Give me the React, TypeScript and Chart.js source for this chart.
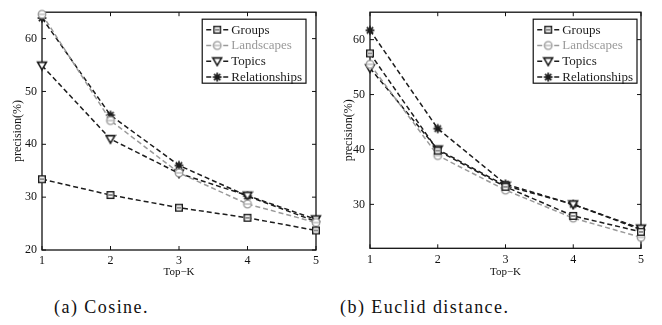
import React, { useEffect, useRef } from 'react';
import { Chart, registerables } from 'chart.js';

Chart.register(...registerables);

// ---------- data ----------
const topK = ['1', '2', '3', '4', '5'];
const seriesNames = ['Groups', 'Landscapes', 'Topics', 'Relationships'];

const cosineGroups = [33.4, 30.4, 28.0, 26.1, 23.7];
const cosineLandscapes = [64.6, 44.5, 34.6, 28.7, 25.2];
const cosineTopics = [54.9, 41.0, 34.5, 30.3, 25.8];
const cosineRelationships = [63.9, 45.5, 36.0, 30.2, 25.4];

const euclidGroups = [57.5, 39.8, 33.2, 27.9, 25.0];
const euclidLandscapes = [55.5, 38.9, 32.6, 27.5, 24.0];
const euclidTopics = [54.8, 40.0, 33.4, 30.0, 25.6];
const euclidRelationships = [61.7, 43.8, 33.7, 30.0, 25.4];

const cosineYTicks = [20, 30, 40, 50, 60];
const euclidYTicks = [30, 40, 50, 60];

const xTitle = 'Top\u2212K';
const yTitle = 'precision(%)';
const captionA = '(a) Cosine.';
const captionB = '(b) Euclid distance.';

// ---------- styling ----------
const DARK = '#1c1c1c';
const GRAY = '#9a9a9a';
const seriesColors = [DARK, GRAY, DARK, DARK];
const seriesMarkers = ['square', 'circle', 'tri', 'star'];
const SERIF = '"Liberation Serif", "Times New Roman", serif';

function makeMarker(kind: string, color: string): HTMLCanvasElement {
  const s = 12;
  const c = document.createElement('canvas');
  c.width = s;
  c.height = s;
  const ctx = c.getContext('2d')!;
  const m = s / 2;
  ctx.strokeStyle = color;
  ctx.fillStyle = '#fff';
  if (kind === 'square') {
    ctx.lineWidth = 1.4;
    ctx.fillRect(m - 3.3, m - 3.3, 6.6, 6.6);
    ctx.strokeRect(m - 3.3, m - 3.3, 6.6, 6.6);
    ctx.lineWidth = 1;
    ctx.beginPath();
    ctx.moveTo(m - 2, m);
    ctx.lineTo(m + 2, m);
    ctx.stroke();
  } else if (kind === 'circle') {
    ctx.lineWidth = 1.3;
    ctx.beginPath();
    ctx.arc(m, m, 3.8, 0, Math.PI * 2);
    ctx.fill();
    ctx.stroke();
    ctx.lineWidth = 1;
    ctx.beginPath();
    ctx.moveTo(m - 3, m);
    ctx.lineTo(m + 3, m);
    ctx.stroke();
  } else if (kind === 'tri') {
    ctx.lineWidth = 1.6;
    ctx.beginPath();
    ctx.moveTo(m - 4.4, m - 3.4);
    ctx.lineTo(m + 4.4, m - 3.4);
    ctx.lineTo(m, m + 4.2);
    ctx.closePath();
    ctx.fill();
    ctx.stroke();
  } else {
    ctx.lineWidth = 1.7;
    ctx.fillStyle = color;
    for (let i = 0; i < 4; i++) {
      const a = (i * Math.PI) / 4;
      ctx.beginPath();
      ctx.moveTo(m - 4.4 * Math.cos(a), m - 4.4 * Math.sin(a));
      ctx.lineTo(m + 4.4 * Math.cos(a), m + 4.4 * Math.sin(a));
      ctx.stroke();
    }
    ctx.beginPath();
    ctx.arc(m, m, 2.3, 0, Math.PI * 2);
    ctx.fill();
  }
  return c;
}

type PanelProps = {
  left: number;
  values: number[][];
  yMin: number;
  yMax: number;
  yTicks: number[];
  padTop: number;
  padRight: number;
  yAxisWidth: number;
  xAxisHeight: number;
  legendRightGap: number;
  legendTopGap: number;
};

const W = 331;
const H = 285;

function Panel(p: PanelProps) {
  const ref = useRef<HTMLCanvasElement>(null);
  useEffect(() => {
    const canvas = ref.current!;
    let chart: Chart | null = null;
    let cancelled = false;

    const build = () => {
      if (cancelled) return;
      const markers = seriesMarkers.map((k, i) => makeMarker(k, seriesColors[i]));

      const framePlugin = {
        id: 'frame',
        beforeDatasetsDraw(ch: any) {
          const { ctx, chartArea: a, scales } = ch;
          ctx.save();
          ctx.strokeStyle = '#111';
          ctx.lineWidth = 1.3;
          ctx.strokeRect(a.left, a.top, a.right - a.left, a.bottom - a.top);
          ctx.lineWidth = 1;
          const tl = 4;
          ctx.beginPath();
          scales.x.ticks.forEach((_t: any, i: number) => {
            const x = scales.x.getPixelForTick(i);
            ctx.moveTo(x, a.bottom);
            ctx.lineTo(x, a.bottom - tl);
            ctx.moveTo(x, a.top);
            ctx.lineTo(x, a.top + tl);
          });
          p.yTicks.forEach((v) => {
            const y = scales.y.getPixelForValue(v);
            ctx.moveTo(a.left, y);
            ctx.lineTo(a.left + tl, y);
            ctx.moveTo(a.right, y);
            ctx.lineTo(a.right - tl, y);
          });
          ctx.stroke();
          ctx.restore();
        },
      };

      const legendPlugin = {
        id: 'boxLegend',
        afterDatasetsDraw(ch: any) {
          const { ctx, chartArea: a } = ch;
          ctx.save();
          ctx.font = `13px ${SERIF}`;
          const tw = Math.max(...seriesNames.map((n) => ctx.measureText(n).width));
          const w = 30 + tw + 3;
          const h = 64;
          const x0 = a.right - p.legendRightGap - w;
          const y0 = a.top + p.legendTopGap;
          ctx.fillStyle = '#fff';
          ctx.fillRect(x0, y0, w, h);
          ctx.strokeStyle = '#111';
          ctx.lineWidth = 1.2;
          ctx.strokeRect(x0, y0, w, h);
          seriesNames.forEach((name, i) => {
            const cy = y0 + 10.5 + i * 15.8;
            ctx.strokeStyle = seriesColors[i];
            ctx.lineWidth = 1.5;
            ctx.beginPath();
            ctx.moveTo(x0 + 4, cy);
            ctx.lineTo(x0 + 9, cy);
            ctx.moveTo(x0 + 21, cy);
            ctx.lineTo(x0 + 26, cy);
            ctx.stroke();
            const mk = markers[i];
            ctx.drawImage(mk, x0 + 15 - mk.width / 2, cy - mk.height / 2);
            ctx.fillStyle = seriesColors[i];
            ctx.textBaseline = 'middle';
            ctx.textAlign = 'left';
            ctx.fillText(name, x0 + 29, cy + 0.5);
          });
          ctx.restore();
        },
      };

      chart = new Chart(canvas, {
        type: 'line',
        data: {
          labels: topK,
          datasets: seriesNames.map((name, i) => ({
            label: name,
            data: p.values[i],
            borderColor: seriesColors[i],
            backgroundColor: seriesColors[i],
            borderWidth: 1.5,
            borderDash: [5, 3],
            pointStyle: markers[i] as any,
            pointRadius: 5,
            tension: 0,
            fill: false,
            clip: false as any,
          })),
        },
        options: {
          animation: false,
          responsive: false,
          devicePixelRatio: 1,
          events: [],
          layout: { padding: { left: 0, right: p.padRight, top: p.padTop, bottom: 0 } },
          plugins: { legend: { display: false }, tooltip: { enabled: false } },
          scales: {
            x: {
              type: 'category',
              offset: false,
              grid: { display: false, drawTicks: false },
              border: { display: false },
              ticks: { color: '#111', font: { family: SERIF, size: 12 }, padding: 4, maxRotation: 0 },
              title: {
                display: true,
                text: xTitle,
                color: '#111',
                font: { family: SERIF, size: 11 },
                padding: { top: 0, bottom: 6 },
              },
              afterFit: (s: any) => {
                s.height = p.xAxisHeight;
              },
            },
            y: {
              type: 'linear',
              min: p.yMin,
              max: p.yMax,
              grid: { display: false, drawTicks: false },
              border: { display: false },
              ticks: { color: '#111', font: { family: SERIF, size: 12 }, padding: 5 },
              afterBuildTicks: (s: any) => {
                s.ticks = p.yTicks.map((v) => ({ value: v }));
              },
              title: {
                display: true,
                text: yTitle,
                color: '#111',
                font: { family: SERIF, size: 12 },
                padding: { top: 11, bottom: 0 },
              },
              afterFit: (s: any) => {
                s.width = p.yAxisWidth;
              },
            },
          },
        },
        plugins: [framePlugin, legendPlugin],
      } as any);
    };

    const fontsApi: any = (document as any).fonts;
    if (fontsApi && fontsApi.load) {
      Promise.all([
        fontsApi.load('12px "Liberation Serif"'),
        fontsApi.load('13px "Liberation Serif"'),
        fontsApi.load('11px "Liberation Serif"'),
      ])
        .catch(() => null)
        .then(build);
    } else {
      build();
    }
    return () => {
      cancelled = true;
      if (chart) chart.destroy();
    };
  }, []);
  return (
    <canvas
      ref={ref}
      width={W}
      height={H}
      style={{ position: 'absolute', left: p.left, top: 0, width: W, height: H }}
    />
  );
}

export default function App() {
  const captionStyle: React.CSSProperties = {
    position: 'absolute',
    top: 298,
    fontFamily: SERIF,
    fontSize: 18,
    letterSpacing: '1.45px',
    lineHeight: '18px',
    color: '#111',
    whiteSpace: 'nowrap',
  };
  return (
    <div style={{ position: 'absolute', left: 0, top: 0, width: 662, height: 325, background: '#fff', overflow: 'hidden' }}>
      <Panel
        left={0}
        values={[cosineGroups, cosineLandscapes, cosineTopics, cosineRelationships]}
        yMin={20}
        yMax={65}
        yTicks={cosineYTicks}
        padTop={0}
        padRight={15}
        yAxisWidth={42}
        xAxisHeight={35}
        legendRightGap={10}
        legendTopGap={7}
      />
      <Panel
        left={331}
        values={[euclidGroups, euclidLandscapes, euclidTopics, euclidRelationships]}
        yMin={22}
        yMax={65}
        yTicks={euclidYTicks}
        padTop={0}
        padRight={21}
        yAxisWidth={39}
        xAxisHeight={36.7}
        legendRightGap={4}
        legendTopGap={7}
      />
      <div style={{ ...captionStyle, left: 54 }}>{captionA}</div>
      <div style={{ ...captionStyle, left: 340 }}>{captionB}</div>
    </div>
  );
}
